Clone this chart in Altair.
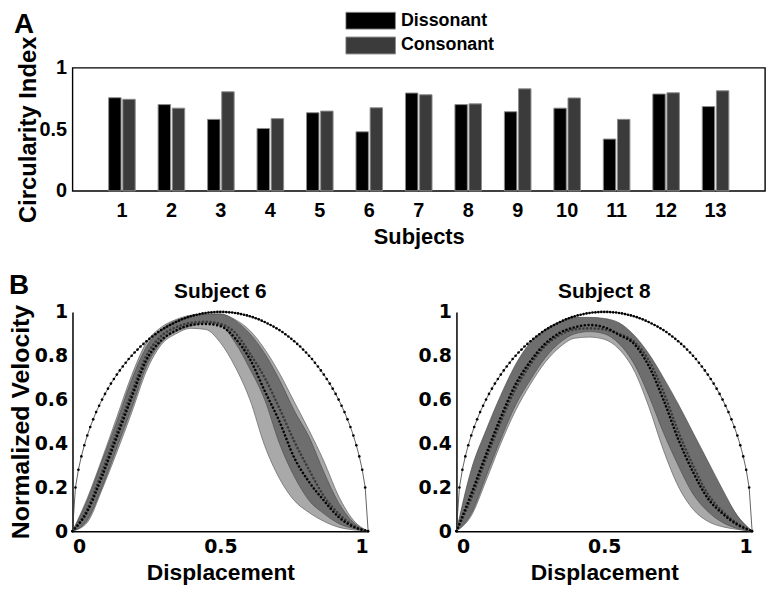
import altair as alt
import pandas as pd

# ---------------- Panel A data ----------------
subjects = ["1", "2", "3", "4", "5", "6", "7", "8", "9", "10", "11", "12", "13"]
conditions = ["Dissonant", "Consonant"]
dissonant = [0.757, 0.701, 0.581, 0.507, 0.635, 0.480, 0.795, 0.701, 0.643, 0.672, 0.421, 0.787, 0.685]
consonant = [0.744, 0.672, 0.805, 0.587, 0.648, 0.675, 0.781, 0.707, 0.829, 0.755, 0.581, 0.797, 0.813]

# ---------------- Panel B data ----------------
grid_x = [0.0, 0.05, 0.1, 0.15, 0.2, 0.25, 0.3, 0.35, 0.4, 0.45, 0.5,
          0.55, 0.6, 0.65, 0.7, 0.75, 0.8, 0.85, 0.9, 0.95, 1.0]

s6_light_lo = [0, 0.04, 0.19, 0.36, 0.54, 0.73, 0.85, 0.90, 0.925, 0.92, 0.86, 0.75, 0.60, 0.39, 0.24, 0.14, 0.085, 0.045, 0.018, 0.006, 0]
s6_light_hi = [0, 0.15, 0.33, 0.52, 0.71, 0.86, 0.93, 0.965, 0.985, 0.99, 0.99, 0.965, 0.915, 0.83, 0.72, 0.59, 0.46, 0.32, 0.16, 0.05, 0]
s6_dark_lo = [0, 0.05, 0.20, 0.38, 0.56, 0.75, 0.86, 0.91, 0.935, 0.95, 0.94, 0.86, 0.74, 0.60, 0.40, 0.25, 0.14, 0.08, 0.035, 0.012, 0]
s6_dark_hi = [0, 0.14, 0.32, 0.50, 0.69, 0.84, 0.92, 0.96, 0.98, 0.99, 0.99, 0.96, 0.90, 0.81, 0.69, 0.55, 0.43, 0.27, 0.13, 0.04, 0]
s6_mean_d = [0, 0.09, 0.25, 0.43, 0.61, 0.78, 0.87, 0.915, 0.94, 0.945, 0.935, 0.88, 0.785, 0.64, 0.50, 0.335, 0.225, 0.14, 0.065, 0.02, 0]
s6_mean_c = [0, 0.10, 0.27, 0.45, 0.63, 0.80, 0.89, 0.93, 0.95, 0.955, 0.945, 0.905, 0.81, 0.70, 0.56, 0.41, 0.28, 0.16, 0.08, 0.025, 0]

s8_light_lo = [0, 0.07, 0.23, 0.40, 0.55, 0.67, 0.77, 0.84, 0.88, 0.885, 0.875, 0.83, 0.735, 0.57, 0.37, 0.205, 0.10, 0.045, 0.02, 0.008, 0]
s8_light_hi = [0, 0.25, 0.42, 0.58, 0.72, 0.82, 0.89, 0.93, 0.95, 0.955, 0.95, 0.93, 0.88, 0.79, 0.68, 0.56, 0.44, 0.31, 0.18, 0.07, 0]
s8_dark_lo = [0, 0.08, 0.25, 0.42, 0.575, 0.69, 0.79, 0.86, 0.90, 0.91, 0.90, 0.855, 0.765, 0.62, 0.45, 0.30, 0.17, 0.09, 0.04, 0.012, 0]
s8_dark_hi = [0, 0.28, 0.46, 0.62, 0.76, 0.86, 0.92, 0.955, 0.975, 0.975, 0.97, 0.95, 0.895, 0.81, 0.70, 0.58, 0.45, 0.32, 0.19, 0.07, 0]
s8_mean_d = [0, 0.17, 0.35, 0.52, 0.67, 0.775, 0.855, 0.905, 0.93, 0.94, 0.93, 0.895, 0.855, 0.755, 0.60, 0.42, 0.27, 0.15, 0.08, 0.03, 0]
s8_mean_c = [0, 0.15, 0.33, 0.50, 0.65, 0.76, 0.845, 0.895, 0.92, 0.925, 0.92, 0.90, 0.865, 0.78, 0.635, 0.455, 0.30, 0.17, 0.09, 0.035, 0]

semi_x = [i / 100 for i in range(101)]
semi_y = [0, 0.199, 0.280, 0.341, 0.392, 0.436, 0.475, 0.510, 0.543, 0.572,
          0.600, 0.626, 0.650, 0.673, 0.694, 0.714, 0.733, 0.751, 0.768, 0.785,
          0.800, 0.815, 0.828, 0.842, 0.854, 0.866, 0.877, 0.888, 0.898, 0.908,
          0.917, 0.925, 0.933, 0.940, 0.947, 0.954, 0.960, 0.966, 0.971, 0.976,
          0.980, 0.984, 0.987, 0.990, 0.993, 0.995, 0.997, 0.998, 0.999, 1.000,
          1.000,
          1.000, 0.999, 0.998, 0.997, 0.995, 0.993, 0.990, 0.987, 0.984, 0.980,
          0.976, 0.971, 0.966, 0.960, 0.954, 0.947, 0.940, 0.933, 0.925, 0.917,
          0.908, 0.898, 0.888, 0.877, 0.866, 0.854, 0.842, 0.828, 0.815, 0.800,
          0.785, 0.768, 0.751, 0.733, 0.714, 0.694, 0.673, 0.650, 0.626, 0.600,
          0.572, 0.543, 0.510, 0.475, 0.436, 0.392, 0.341, 0.280, 0.199, 0]

FONT = "Liberation Sans"
TICKFONT = "DejaVu Sans"

# ---------------- Panel A ----------------
dfA = pd.DataFrame({
    "Subject": subjects * 2,
    "Condition": ["Dissonant"] * len(subjects) + ["Consonant"] * len(subjects),
    "CI": dissonant + consonant,
})

barsA = alt.Chart(dfA).mark_bar(stroke="#8c8c8c", strokeWidth=1).encode(
    x=alt.X("Subject:N", sort=subjects,
            scale=alt.Scale(paddingInner=0.463, paddingOuter=0.731),
            axis=alt.Axis(title="Subjects", labelAngle=0, ticks=False, domain=False,
                          labelPadding=10, titlePadding=6, titleFontSize=22,
                          labelFontSize=20, labelFont=FONT)),
    xOffset=alt.XOffset("Condition:N", sort=conditions,
                        scale=alt.Scale(paddingInner=0.12)),
    y=alt.Y("CI:Q", scale=alt.Scale(domain=[0, 1], nice=False),
            axis=alt.Axis(title="Circularity Index", values=[0, 0.5, 1], format="~g",
                          ticks=False, domain=False, labelPadding=6,
                          minExtent=33, maxExtent=33, titlePadding=-1,
                          titleFontSize=24, labelFontSize=20, labelFont=FONT)),
    color=alt.Color("Condition:N", sort=conditions,
                    scale=alt.Scale(domain=conditions, range=["#000000", "#3b3b3b"]),
                    legend=alt.Legend(title=None, orient="none", legendX=275, legendY=-57,
                                      symbolType="M-1,-0.34H1V0.34H-1Z", symbolSize=2500,
                                      symbolStrokeColor="#8c8c8c", symbolStrokeWidth=1,
                                      symbolOpacity=1, clipHeight=19, rowPadding=6,
                                      labelFontSize=18, labelFontWeight="bold",
                                      labelFont=FONT, labelColor="black",
                                      labelOffset=5, padding=0)),
)

textA = alt.Chart(pd.DataFrame({"lab": ["A"]})).mark_text(
    fontSize=28, fontWeight="bold", align="left", baseline="top", font=FONT, color="black"
).encode(text="lab:N", x=alt.value(-59), y=alt.value(-57))

panelA = alt.layer(barsA, textA).properties(
    width=698, height=124,
    view=alt.ViewBackground(stroke="#000000", strokeWidth=1.4),
)


# ---------------- Panel B ----------------
def velocity_panel(title, light_lo, light_hi, dark_lo, dark_hi, mean_d, mean_c, show_ytitle, label_opacity):
    xenc = alt.X("x:Q", scale=alt.Scale(domain=[0, 1], nice=False),
                 axis=alt.Axis(title="Displacement", values=[0, 0.5, 1], format="~g",
                               ticks=False, domainColor="black", domainWidth=1.5,
                               labelPadding=7, titlePadding=5, titleFontSize=23,
                               labelFontSize=19, labelFont=TICKFONT))
    yenc = alt.Y("y:Q", scale=alt.Scale(domain=[0, 1], nice=False),
                 axis=alt.Axis(title="Normalized Velocity" if show_ytitle else None,
                               values=[0, 0.2, 0.4, 0.6, 0.8, 1], format="~g",
                               ticks=False, domainColor="black", domainWidth=1.5,
                               labelPadding=5, minExtent=39, maxExtent=39,
                               titlePadding=0, titleFontSize=25, labelFontSize=19,
                               labelFont=TICKFONT))

    light_df = pd.DataFrame({"x": grid_x, "y": light_lo, "y2": light_hi})
    dark_df = pd.DataFrame({"x": grid_x, "y": dark_lo, "y2": dark_hi})
    md_df = pd.DataFrame({"x": grid_x, "y": mean_d})
    mc_df = pd.DataFrame({"x": grid_x, "y": mean_c})
    semi_df = pd.DataFrame({"x": semi_x, "y": semi_y})

    light = alt.Chart(light_df).mark_area(
        fill="#a9a9a9", stroke="#5f5f5f", strokeWidth=0.7, interpolate="monotone"
    ).encode(x=xenc, y=yenc, y2="y2:Q")
    dark = alt.Chart(dark_df).mark_area(
        fill="#6e6e6e", stroke="#505050", strokeWidth=0.7, interpolate="monotone"
    ).encode(x=xenc, y=yenc, y2="y2:Q")
    mean_c_line = alt.Chart(mc_df).mark_line(
        color="#3a3a3a", strokeWidth=2.6, strokeCap="round", strokeDash=[0.01, 3.8],
        interpolate="monotone"
    ).encode(x=xenc, y=yenc)
    mean_d_line = alt.Chart(md_df).mark_line(
        color="#050505", strokeWidth=2.6, strokeCap="round", strokeDash=[0.01, 3.8],
        interpolate="monotone"
    ).encode(x=xenc, y=yenc)
    semi_line = alt.Chart(semi_df).mark_line(color="#3a3a3a", strokeWidth=0.8).encode(x=xenc, y=yenc)
    semi_pts = alt.Chart(semi_df).mark_circle(color="#000000", size=7, opacity=1).encode(x=xenc, y=yenc)

    lab = alt.Chart(pd.DataFrame({"lab": ["B"]})).mark_text(
        fontSize=28, fontWeight="bold", align="left", baseline="top", font=FONT,
        color="black", opacity=label_opacity
    ).encode(text="lab:N", x=alt.value(-64), y=alt.value(-40))

    ttl = alt.Chart(pd.DataFrame({"lab": [title]})).mark_text(
        fontSize=21, fontWeight="bold", align="center", baseline="top", font=FONT,
        color="black"
    ).encode(text="lab:N", x=alt.value(149), y=alt.value(-31))

    return alt.layer(light, dark, mean_c_line, mean_d_line, semi_line, semi_pts, lab, ttl).properties(
        width=298, height=221,
    )


left = velocity_panel("Subject 6", s6_light_lo, s6_light_hi, s6_dark_lo, s6_dark_hi,
                      s6_mean_d, s6_mean_c, True, 1)
right = velocity_panel("Subject 8", s8_light_lo, s8_light_hi, s8_dark_lo, s8_dark_hi,
                       s8_mean_d, s8_mean_c, False, 0)

panelB = alt.hconcat(left, right, spacing=19)

chart = alt.vconcat(panelA, panelB, spacing=24).properties(padding=0).configure(
    font=FONT
).configure_view(stroke=None).configure_axis(
    titleFont=FONT, labelFontWeight="bold", titleFontWeight="bold",
    labelColor="black", titleColor="black", grid=False
)

chart.save("out.html", embed_options={"renderer": "svg", "actions": False})
